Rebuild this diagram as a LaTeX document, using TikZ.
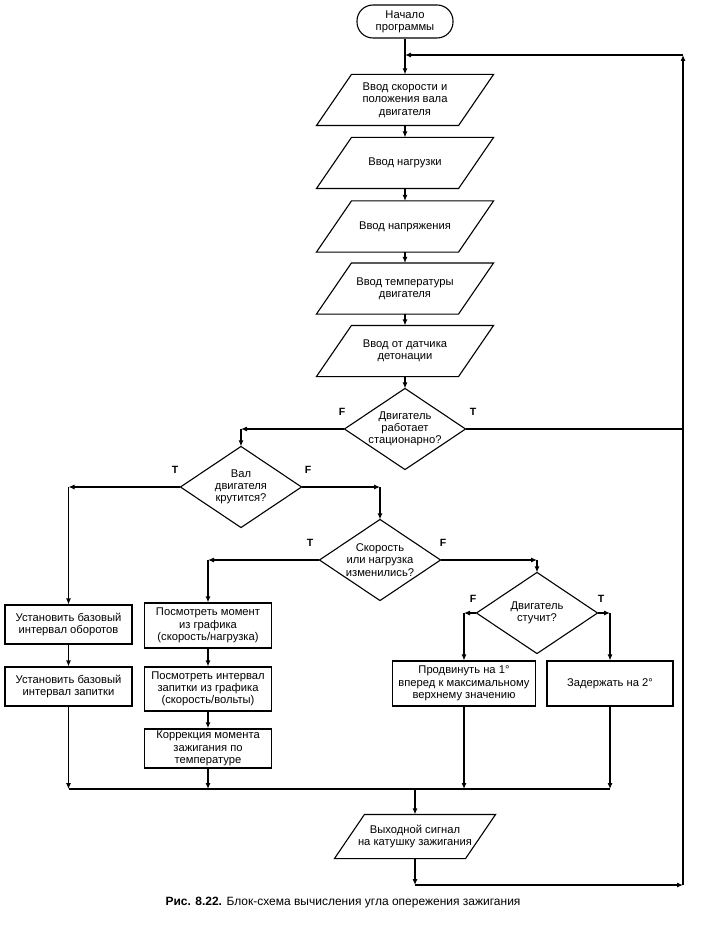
\documentclass[tikz,border=0pt]{standalone}
\usepackage{fontspec}
\setmainfont{Liberation Sans}
\usetikzlibrary{arrows.meta}
\newcommand\myPara[7]{%
  \node[draw=none, minimum width=#4, minimum height=#5, inner sep=0pt, align=center] (#1) at (#2,#3) {#7};
  \draw ([xshift=-#6]#1.south west) -- ([xshift=-#6]#1.south east) -- ([xshift=#6]#1.north east) -- ([xshift=#6]#1.north west) -- cycle;}
\newcommand\myDia[4]{%
  \node[draw=none, minimum width=120pt, minimum height=80pt, inner sep=0pt, align=center] (#1) at (#2,#3) {#4};
  \draw (#1.north) -- (#1.east) -- (#1.south) -- (#1.west) -- cycle;}
\begin{document}
\begin{tikzpicture}[x=1pt,y=-1pt,
  font=\fontsize{11.2}{12.3}\selectfont,
  line width=1.1pt,
  line join=miter,
  arr/.style={-{Latex[length=6pt,width=5pt]}},
  box/.style={draw, rectangle, inner sep=1pt, align=center},
  lab/.style={font=\fontsize{10.5}{12}\selectfont\bfseries}
]
\useasboundingbox (0,0) rectangle (705,925);

% start
\node[draw, rounded corners=16pt, minimum width=96pt, minimum height=33pt, align=center, inner sep=0pt]
  (start) at (405,21.5) {Начало\\программы};

% input parallelograms
\myPara{p1}{405}{100}{141pt}{50pt}{17.5pt}{Ввод скорости и\\положения вала\\двигателя}
\myPara{p2}{405}{163}{141pt}{50pt}{17.5pt}{Ввод нагрузки}
\myPara{p3}{405}{226.5}{141pt}{50pt}{17.5pt}{Ввод напряжения}
\myPara{p4}{405}{288.5}{141pt}{50pt}{17.5pt}{Ввод температуры\\двигателя}
\myPara{p5}{405}{351}{141pt}{50pt}{17.5pt}{Ввод от датчика\\детонации}

% decisions
\myDia{d1}{405}{429}{Двигатель\\работает\\стационарно?}
\myDia{d2}{241}{487}{Вал\\двигателя\\крутится?}
\myDia{d3}{380}{560}{Скорость\\или нагрузка\\изменились?}
\myDia{d4}{537}{613}{Двигатель\\стучит?}

% process boxes
\node[box, minimum width=127pt, minimum height=39pt] (l1) at (68.5,624.5) {Установить базовый\\интервал оборотов};
\node[box, minimum width=127pt, minimum height=39pt] (l2) at (68.5,686.5) {Установить базовый\\интервал запитки};
\node[box, minimum width=127pt, minimum height=45pt] (m1) at (208,625.5) {Посмотреть момент\\из графика\\(скорость/нагрузка)};
\node[box, minimum width=127pt, minimum height=44pt] (m2) at (208,689) {Посмотреть интервал\\запитки из графика\\(скорость/вольты)};
\node[box, minimum width=127pt, minimum height=39pt, line width=1.5pt] (m3) at (208,748.5) {Коррекция момента\\зажигания по\\температуре};
\node[box, minimum width=143pt, minimum height=45pt] (r1) at (464,683.5) {Продвинуть на 1°\\вперед к максимальному\\верхнему значению};
\node[box, minimum width=126pt, minimum height=45pt] (r2) at (610,683.5) {Задержать на 2°};

% output
\myPara{out}{415}{836.5}{130pt}{43pt}{15pt}{Выходной сигнал\\на катушку зажигания}

% caption
\node[inner sep=0pt, font=\fontsize{12}{13}\selectfont] (cap) at (343,903)
  {\textbf{Рис. 8.22.} Блок-схема вычисления угла опережения зажигания};

% loop coordinates
\coordinate (jtop) at (405,55);
\coordinate (rtop) at (683,55);
\coordinate (rbot) at (683,885);
\coordinate (obot) at (415,885);

% main chain
\draw[arr] (start) -- (p1);
\draw[arr] (p1) -- (p2);
\draw[arr] (p2) -- (p3);
\draw[arr] (p3) -- (p4);
\draw[arr] (p4) -- (p5);
\draw[arr] (p5) -- (d1);

% loop back
\draw[arr] (out) -- (obot);
\draw[arr] (obot) -- (rbot);
\draw[arr] (rbot) -- (rtop);
\draw[arr] (rtop) -- (jtop);
\draw (d1.east) -- (d1.east -| rtop);

% d1 false
\coordinate (c1) at (d1.west -| d2.north);
\draw[arr] (d1.west) -- (c1);
\draw[arr] (c1) -- (d2.north);

% d2
\coordinate (c2l) at (d2.west -| l1.north);
\draw[arr] (d2.west) -- (c2l);
\draw[arr] (c2l) -- (l1.north);
\coordinate (c2r) at (d2.east -| d3.north);
\draw[arr] (d2.east) -- (c2r);
\draw[arr] (c2r) -- (d3.north);

% d3
\coordinate (c3l) at (d3.west -| m1.north);
\draw[arr] (d3.west) -- (c3l);
\draw[arr] (c3l) -- (m1.north);
\coordinate (c3r) at (d3.east -| d4.north);
\draw[arr] (d3.east) -- (c3r);
\draw[arr] (c3r) -- (d4.north);

% d4
\coordinate (c4l) at (d4.west -| r1.north);
\draw[arr] (d4.west) -- (c4l);
\draw[arr] (c4l) -- (r1.north);
\coordinate (c4r) at (d4.east -| r2.north);
\draw[arr] (d4.east) -- (c4r);
\draw[arr] (c4r) -- (r2.north);

% columns
\draw[arr] (l1) -- (l2);
\draw[arr] (m1) -- (m2);
\draw[arr] (m2) -- (m3);

% merge line
\coordinate (bl) at (68.5,789);
\coordinate (bm) at (208,789);
\coordinate (br1) at (464,789);
\coordinate (br) at (610,789);
\coordinate (bo) at (415,789);
\draw[arr] (l2) -- (bl);
\draw[arr] (m3) -- (bm);
\draw[arr] (r1) -- (br1);
\draw[arr] (r2) -- (br);
\draw (bl) -- (br);
\draw[arr] (bo) -- (out);

% branch labels
\node[lab] at (342,412) {F};
\node[lab] at (473,412) {T};
\node[lab] at (175,470) {T};
\node[lab] at (308,470) {F};
\node[lab] at (310,543) {T};
\node[lab] at (443,543) {F};
\node[lab] at (473,599) {F};
\node[lab] at (601,599) {T};
\end{tikzpicture}
\end{document}
